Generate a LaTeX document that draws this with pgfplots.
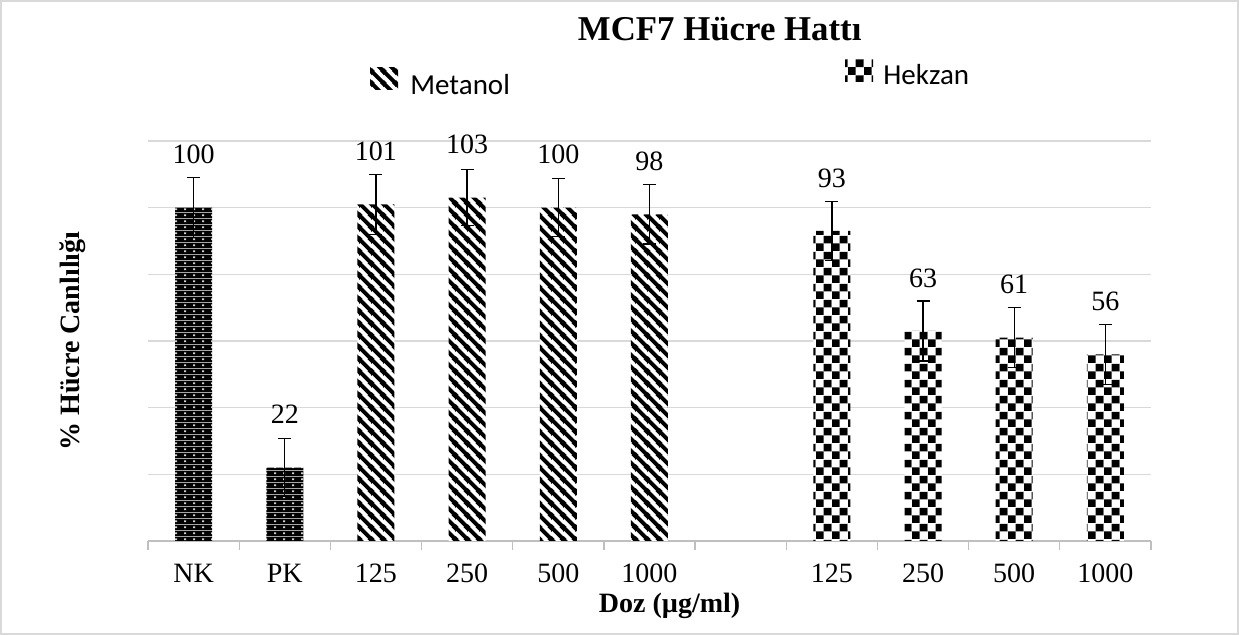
\documentclass[border=0pt]{standalone}
\usepackage{pgfplots}
\pgfplotsset{compat=1.18}
\usetikzlibrary{patterns,patterns.meta}
\usepackage{fontspec}
\setmainfont{Liberation Serif}
\newfontfamily\calfont{Carlito}

\definecolor{gridgray}{HTML}{D9D9D9}
\definecolor{axisgray}{HTML}{BFBFBF}

\tikzdeclarepattern{
  name=blackdots, type=colored,
  bottom left={(0pt,0pt)}, top right={(4.3pt,3.1pt)}, tile size={(4.3pt,3.1pt)},
  code={\fill[black] (0pt,0pt) rectangle (4.3pt,3.1pt);
        \fill[gray!35] (1.65pt,1.05pt) rectangle (2.65pt,2.05pt);}
}
\tikzdeclarepattern{
  name=stripes, type=colored,
  bottom left={(0pt,0pt)}, top right={(6pt,6pt)}, tile size={(6pt,6pt)},
  code={\fill[white] (0pt,0pt) rectangle (6pt,6pt);
        \draw[black, line width=2.1pt] (-1pt,7pt) -- (7pt,-1pt);
        \draw[black, line width=2.1pt] (-2pt,2pt) -- (2pt,-2pt);
        \draw[black, line width=2.1pt] (4pt,8pt) -- (8pt,4pt);}
}
\tikzdeclarepattern{
  name=checks, type=colored,
  bottom left={(0pt,0pt)}, top right={(8pt,8pt)}, tile size={(8pt,8pt)},
  code={\fill[white] (0pt,0pt) rectangle (8pt,8pt);
        \fill[black] (0pt,0pt) rectangle (4pt,4pt);
        \fill[black] (4pt,4pt) rectangle (8pt,8pt);}
}

\begin{document}
\begin{tikzpicture}
\begin{axis}[
  scale only axis,
  width=501.5pt, height=200pt,
  xmin=-0.5, xmax=10.5, ymin=0, ymax=120,
  axis x line*=bottom, axis y line*=left,
  x axis line style={draw=axisgray, line width=0.6pt},
  y axis line style={draw=none},
  ytick={20,40,60,80,100,120}, yticklabels={},
  ytick style={draw=none},
  ymajorgrids, grid style={gridgray, line width=0.6pt},
  xtick={0,1,2,3,4,5,7,8,9,10},
  xticklabels={NK,PK,125,250,500,1000,125,250,500,1000},
  major x tick style={draw=none},
  minor xtick={-0.5,0.5,1.5,2.5,3.5,4.5,5.5,6.5,7.5,8.5,9.5,10.5},
  minor x tick style={draw=axisgray, line width=0.6pt},
  minor tick length=4.5pt,
  tick align=outside,
  xticklabel style={font=\fontsize{14}{16}\selectfont, anchor=base, yshift=-16.5pt},
  xlabel={\bfseries Doz (µg/ml)},
  xlabel style={font=\fontsize{14}{16}\selectfont, at={(axis description cs:0.52,-0.1625)}, anchor=center},
  ylabel={\bfseries \% Hücre Canlılığı},
  ylabel style={font=\fontsize{14}{16}\selectfont, at={(axis description cs:-0.0748,0.5)}, anchor=center},
  title={\bfseries MCF7 Hücre Hattı},
  title style={font=\fontsize{17.4}{20}\selectfont, at={(axis description cs:0.57,1.25)}, anchor=center},
  /pgf/number format/assume math mode=true,
  /pgf/number format/fixed, /pgf/number format/precision=0,
  nodes near coords,
  every node near coord/.append style={black, font=\fontsize{14}{16}\selectfont, anchor=center, yshift=26.5pt},
  error bars/error bar style={black, line width=0.65pt},
  error bars/error mark options={black, line width=0.65pt, mark size=3.25pt, rotate=90},
  clip=false,
]
\addplot[ybar, bar shift=0pt, bar width=18.5pt, draw=none, pattern=blackdots,
  error bars/.cd, y dir=both, y explicit]
  coordinates {(0,100) +- (0,9) (1,22) +- (0,8.7)};
\addplot[ybar, bar shift=0pt, bar width=18.5pt, draw=none, pattern=stripes,
  error bars/.cd, y dir=both, y explicit]
  coordinates {(2,101) +- (0,9) (3,103) +- (0,8.4) (4,100) +- (0,8.7) (5,98) +- (0,8.9)};
\addplot[ybar, bar shift=0pt, bar width=18.5pt, draw=none, pattern=checks,
  error bars/.cd, y dir=both, y explicit]
  coordinates {(7,93) +- (0,8.8) (8,63) +- (0,9) (9,61) +- (0,9) (10,56) +- (0,9)};
\end{axis}
% legend
\fill[pattern=stripes] (111pt,225.5pt) rectangle (125pt,236.5pt);
\node[anchor=base west, inner sep=0pt, font=\calfont\fontsize{14.5}{17}\selectfont] at (131pt,223pt) {Metanol};
\fill[pattern=checks] (348.5pt,229.5pt) rectangle (362.5pt,240.5pt);
\node[anchor=base west, inner sep=0pt, font=\calfont\fontsize{14.5}{17}\selectfont] at (367.5pt,228pt) {Hekzan};
% border
\draw[gridgray, line width=1pt] (-73.5pt,-46.5pt) rectangle (545pt,270pt);
\pgfresetboundingbox
\useasboundingbox (-74pt,-47pt) rectangle (545.5pt,270.5pt);
\end{tikzpicture}
\end{document}
